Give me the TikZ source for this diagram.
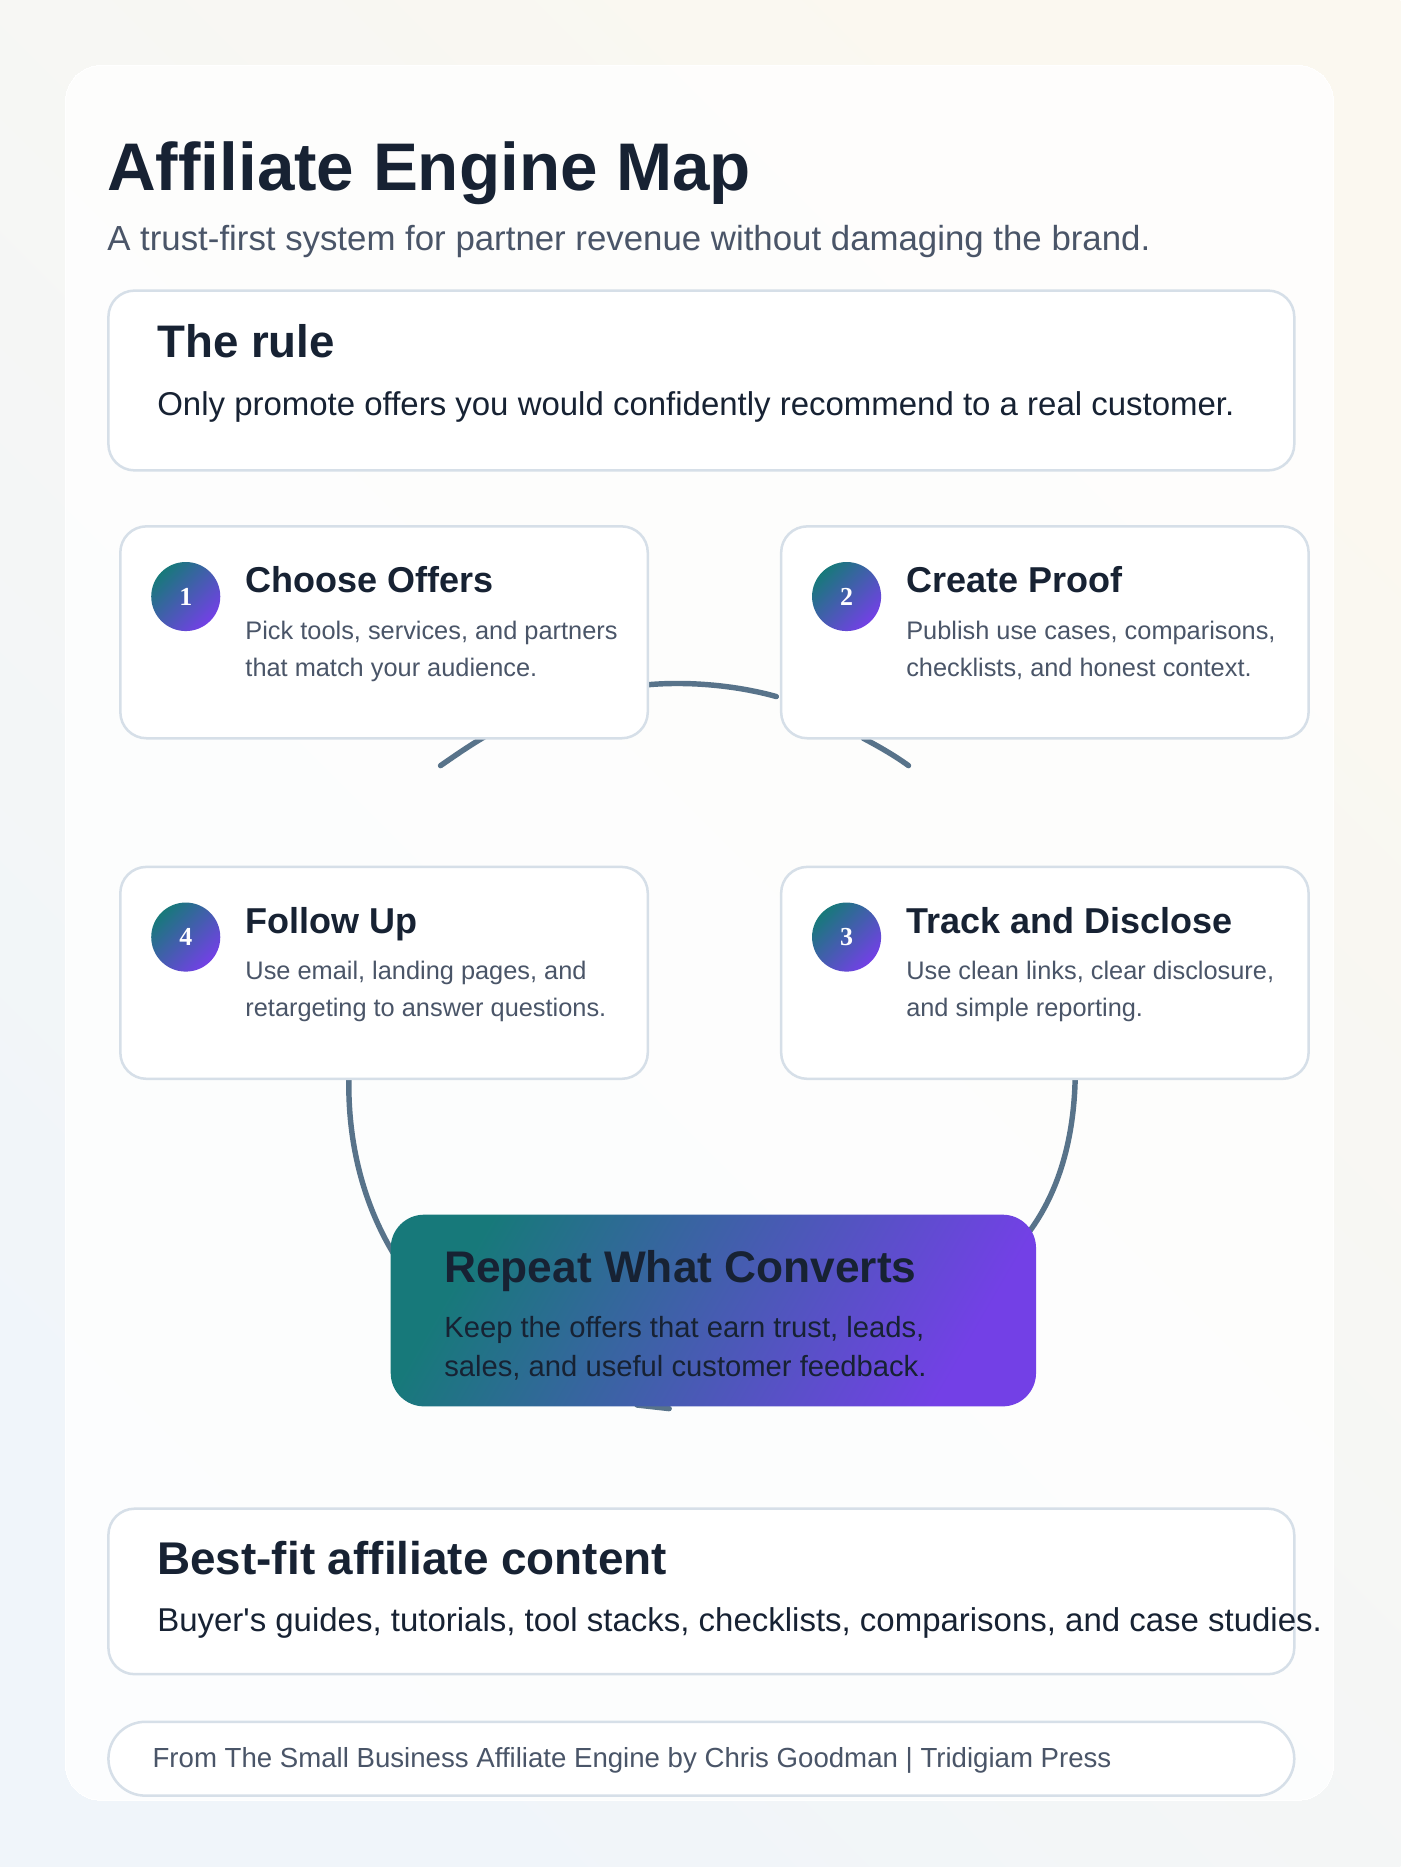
\documentclass[tikz,border=0pt]{standalone}
\usepackage{fontspec}
\setmainfont{Liberation Sans}
\usetikzlibrary{positioning,calc}
\definecolor{ink}{HTML}{172233}
\definecolor{muted}{HTML}{4A5568}
\definecolor{cardline}{HTML}{D6DFE8}
\definecolor{ringcol}{HTML}{58738A}
\definecolor{tealc}{HTML}{17797A}
\definecolor{violetc}{HTML}{7340E6}
\definecolor{bgA}{HTML}{F0F5FA}
\definecolor{bgB}{HTML}{FBF8F0}

\begin{document}
\begin{tikzpicture}[x=0.05cm, y=-0.05cm,
    card/.style={draw=cardline, line width=3pt, fill=white, rounded corners=1.1cm, anchor=north west, inner sep=0pt},
    stepbox/.style={card, minimum width=22.15cm, minimum height=8.9cm},
    badge/.style={circle, minimum size=2.9cm, inner sep=0pt, left color=tealc, right color=violetc, shading angle=45, text=white, font=\fontspec{Liberation Serif}\bfseries\fontsize{31}{31}\selectfont},
    steptitle/.style={anchor=base west, inner sep=0pt, text=ink, font=\bfseries\fontsize{43}{43}\selectfont},
    stepdesc/.style={anchor=base west, inner sep=0pt, text=muted, align=left, font=\fontsize{30.3}{44.5}\selectfont},
    ring/.style={draw=ringcol, line width=6.5pt, line cap=round}]

    % background and page card
    \path[use as bounding box, left color=bgA, right color=bgB, shading angle=135] (0,0) rectangle (1176,1568);
    \node[card, draw=white, fill=white, fill opacity=0.8, line width=0pt, rounded corners=1.5cm, minimum width=53.25cm, minimum height=72.85cm] (page) at (55,55) {};

    % heading
    \node[anchor=base west, inner sep=0pt, text=ink, font=\bfseries\fontsize{80.5}{80.5}\selectfont] (title) at (90,160) {Affiliate Engine Map};
    \node[anchor=base west, inner sep=0pt, text=muted, font=\fontsize{41.6}{41.6}\selectfont] (subtitle) at (90,210) {A trust-first system for partner revenue without damaging the brand.};

    % the rule
    \node[card, minimum width=49.8cm, minimum height=7.55cm] (rule) at (90,243) {};
    \node[anchor=base west, inner sep=0pt, text=ink, font=\bfseries\fontsize{54.5}{54.5}\selectfont] (ruletitle) at (132,300) {The rule};
    \node[anchor=base west, inner sep=0pt, text=ink, font=\fontsize{39.4}{39.4}\selectfont] (ruletext) at (132,349) {Only promote offers you would confidently recommend to a real customer.};

    % ring pieces
    \coordinate (r1) at (545,575);
    \coordinate (r2) at (652,585);
    \draw[ring] (r1) .. controls (580,572) and (620,576) .. (r2);
    \coordinate (r3) at (370,643);
    \coordinate (r4) at (410,617);
    \draw[ring] (r3) .. controls (383,634) and (396,625) .. (r4);
    \coordinate (r5) at (725,620);
    \coordinate (r6) at (763,643);
    \draw[ring] (r5) .. controls (740,628) and (752,635) .. (r6);
    \coordinate (r7) at (293,905);
    \coordinate (r8) at (330,1052);
    \draw[ring] (r7) .. controls (292,960) and (305,1010) .. (r8);
    \coordinate (r9) at (903,905);
    \coordinate (r10) at (864,1035);
    \draw[ring] (r9) .. controls (902,955) and (890,1000) .. (r10);
    \coordinate (r11) at (535,1180);
    \coordinate (r12) at (562,1183);
    \draw[ring] (r11) -- (r12);

    % steps
    \node[stepbox] (choose) at (100,441) {};
    \node[stepbox] (proof) at (655,441) {};
    \node[stepbox] (follow) at (100,727) {};
    \node[stepbox] (track) at (655,727) {};

    \node[badge] (n1) at (156,501) {1};
    \node[steptitle] (t1) at (206,498) {Choose Offers};
    \node[stepdesc] (d1) at (206,568) {Pick tools, services, and partners\\that match your audience.};

    \node[badge] (n2) at (711,501) {2};
    \node[steptitle] (t2) at (761,498) {Create Proof};
    \node[stepdesc] (d2) at (761,568) {Publish use cases, comparisons,\\checklists, and honest context.};

    \node[badge] (n3) at (711,787) {3};
    \node[steptitle] (t3) at (761,784) {Track and Disclose};
    \node[stepdesc] (d3) at (761,854) {Use clean links, clear disclosure,\\and simple reporting.};

    \node[badge] (n4) at (156,787) {4};
    \node[steptitle] (t4) at (206,784) {Follow Up};
    \node[stepdesc] (d4) at (206,854) {Use email, landing pages, and\\retargeting to answer questions.};

    % centre
    \node[anchor=north west, inner sep=0pt, rounded corners=1.4cm, minimum width=27.1cm, minimum height=8.05cm, left color=tealc, right color=violetc, shading angle=60] (repeat) at (328,1020) {};
    \node[anchor=base west, inner sep=0pt, text=ink, font=\bfseries\fontsize{52.9}{52.9}\selectfont] (rtitle) at (373,1077) {Repeat What Converts};
    \node[anchor=base west, inner sep=0pt, text=ink, align=left, font=\fontsize{34.9}{47}\selectfont] (rdesc) at (373,1156) {Keep the offers that earn trust, leads,\\sales, and useful customer feedback.};

    % best fit
    \node[card, minimum width=49.8cm, minimum height=6.95cm] (bestfit) at (90,1266) {};
    \node[anchor=base west, inner sep=0pt, text=ink, font=\bfseries\fontsize{54.8}{54.8}\selectfont] (bftitle) at (132,1322) {Best-fit affiliate content};
    \node[anchor=base west, inner sep=0pt, text=ink, font=\fontsize{39.4}{39.4}\selectfont] (bftext) at (132,1370) {Buyer\textquotesingle s guides, tutorials, tool stacks, checklists, comparisons, and case studies.};

    % footer
    \node[card, rounded corners=1.55cm, minimum width=49.8cm, minimum height=3.1cm] (footer) at (90,1445) {};
    \node[anchor=base west, inner sep=0pt, text=muted, font=\fontsize{33}{33}\selectfont] (ftext) at (128,1484) {From The Small Business Affiliate Engine by Chris Goodman | Tridigiam Press};
\end{tikzpicture}
\end{document}
